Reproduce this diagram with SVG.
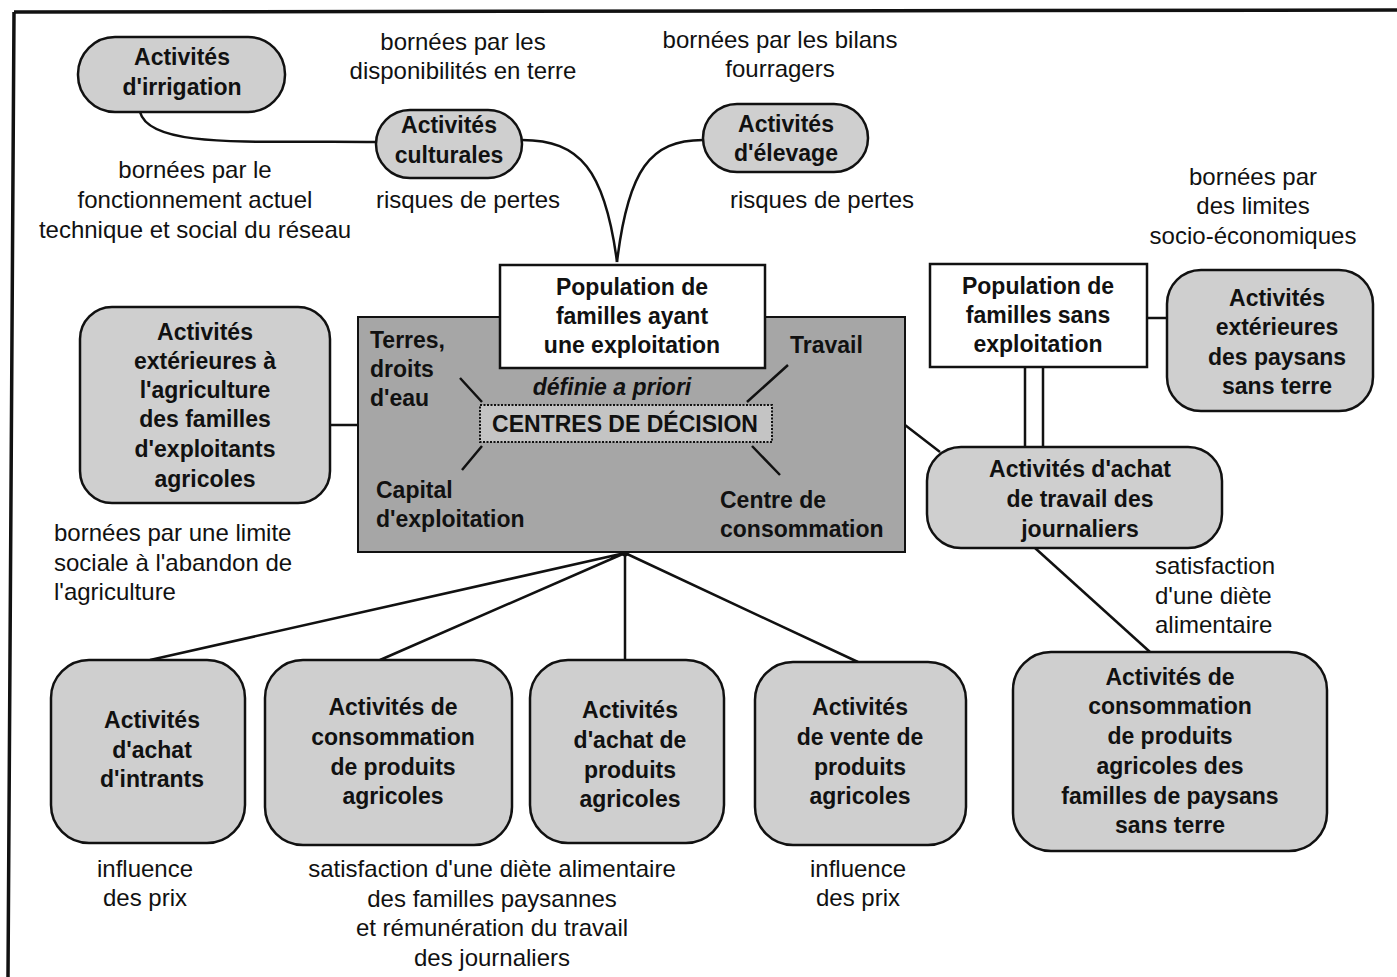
<svg xmlns="http://www.w3.org/2000/svg" width="1397" height="977" viewBox="0 0 1397 977">
<style>
text{font-family:"Liberation Sans",Arial,sans-serif;fill:#111;text-anchor:middle}
.r{font-size:24px}
.b{font-size:23px;font-weight:bold}
.l{text-anchor:start}
.node{fill:#cfcfcf;stroke:#111;stroke-width:2.5}
.box{fill:#fff;stroke:#111;stroke-width:2.5}
.ln{fill:none;stroke:#111;stroke-width:2.5}
</style>
<rect width="1397" height="977" fill="#fff"/>
<g id="frame"><path d="M14 12 L1397 10 M14 12 L8 977" fill="none" stroke="#111" stroke-width="3.5"/></g>

<g id="connectors">
<path class="ln" d="M140 112 C150 150 260 140 376 142"/>
<path class="ln" d="M522 140 C580 140 605 170 617 262"/>
<path class="ln" d="M703 140 C650 140 628 170 617 262"/>
<path class="ln" d="M330 425 L480 425"/>
<path class="ln" d="M772 425 L905 425 L940 452"/>
<path class="ln" d="M625 442 L625 553"/>
<path class="ln" d="M625 553 L150 660 M625 553 L380 660 M625 553 L625 660 M625 553 L858 662"/>
<path class="ln" d="M1147 318 L1167 318"/>
<path class="ln" d="M1025 367 L1025 447 M1043 367 L1043 447"/>
<path class="ln" d="M1035 548 L1150 652"/>
<circle cx="625" cy="553" r="3.5" fill="#111"/>
</g>

<g id="irrigation"><rect class="node" x="78" y="37" width="207" height="75" rx="37"/><text class="b" x="182" y="65">Activités</text><text class="b" x="182" y="95">d'irrigation</text></g>
<g id="culturales"><rect class="node" x="376" y="110" width="146" height="68" rx="34"/><text class="b" x="449" y="133">Activités</text><text class="b" x="449" y="163">culturales</text></g>
<g id="elevage"><rect class="node" x="703" y="104" width="165" height="68" rx="34"/><text class="b" x="786" y="132">Activités</text><text class="b" x="786" y="161">d'élevage</text></g>

<g id="notes">
<text class="r" x="463" y="50">bornées par les</text><text class="r" x="463" y="79">disponibilités en terre</text>
<text class="r" x="780" y="48">bornées par les bilans</text><text class="r" x="780" y="77">fourragers</text>
<text class="r" x="195" y="178">bornées par le</text><text class="r" x="195" y="208">fonctionnement actuel</text><text class="r" x="195" y="238">technique et social du réseau</text>
<text class="r" x="468" y="208">risques de pertes</text>
<text class="r" x="822" y="208">risques de pertes</text>
<text class="r" x="1253" y="185">bornées par</text><text class="r" x="1253" y="214">des limites</text><text class="r" x="1253" y="244">socio-économiques</text>
<text class="r l" x="54" y="541">bornées par une limite</text><text class="r l" x="54" y="571">sociale à l'abandon de</text><text class="r l" x="54" y="600">l'agriculture</text>
<text class="r l" x="1155" y="574">satisfaction</text><text class="r l" x="1155" y="604">d'une diète</text><text class="r l" x="1155" y="633">alimentaire</text>
<text class="r" x="145" y="877">influence</text><text class="r" x="145" y="906">des prix</text>
<text class="r" x="858" y="877">influence</text><text class="r" x="858" y="906">des prix</text>
<text class="r" x="492" y="877">satisfaction d'une diète alimentaire</text><text class="r" x="492" y="907">des familles paysannes</text><text class="r" x="492" y="936">et rémunération du travail</text><text class="r" x="492" y="966">des journaliers</text>
</g>

<g id="decision">
<rect x="358" y="317" width="547" height="235" fill="#a6a6a6" stroke="#111" stroke-width="2"/>
<path class="ln" d="M460 378 L482 402 M482 446 L462 470 M747 402 L788 365 M752 446 L780 475"/>
<text class="b l" x="370" y="348">Terres,</text><text class="b l" x="370" y="377">droits</text><text class="b l" x="370" y="406">d'eau</text>
<text class="b l" x="790" y="353">Travail</text>
<text class="b" x="612" y="395" font-style="italic">définie a priori</text>
<text class="b l" x="376" y="498">Capital</text><text class="b l" x="376" y="527">d'exploitation</text>
<text class="b l" x="720" y="508">Centre de</text><text class="b l" x="720" y="537">consommation</text>
</g>
<g id="centres"><rect x="480" y="405" width="292" height="37" fill="#c4c4c4" stroke="#111" stroke-width="2" stroke-dasharray="2 1.5"/><text x="625" y="432" style="font-size:23px;font-weight:bold">CENTRES DE DÉCISION</text></g>

<g id="pop-avec"><rect class="box" x="500" y="265" width="265" height="103"/><text class="b" x="632" y="295">Population de</text><text class="b" x="632" y="324">familles ayant</text><text class="b" x="632" y="353">une exploitation</text></g>

<g id="ext-agri"><rect class="node" x="80" y="307" width="250" height="196" rx="32"/><text class="b" x="205" y="340">Activités</text><text class="b" x="205" y="369">extérieures à</text><text class="b" x="205" y="398">l'agriculture</text><text class="b" x="205" y="427">des familles</text><text class="b" x="205" y="457">d'exploitants</text><text class="b" x="205" y="487">agricoles</text></g>

<g id="pop-sans"><rect class="box" x="930" y="264" width="217" height="103"/><text class="b" x="1038" y="294">Population de</text><text class="b" x="1038" y="323">familles sans</text><text class="b" x="1038" y="352">exploitation</text></g>
<g id="ext-paysans"><rect class="node" x="1167" y="270" width="206" height="141" rx="34"/><text class="b" x="1277" y="306">Activités</text><text class="b" x="1277" y="335">extérieures</text><text class="b" x="1277" y="365">des paysans</text><text class="b" x="1277" y="394">sans terre</text></g>
<g id="achat-travail"><rect class="node" x="927" y="447" width="295" height="101" rx="34"/><text class="b" x="1080" y="477">Activités d'achat</text><text class="b" x="1080" y="507">de travail des</text><text class="b" x="1080" y="537">journaliers</text></g>
<g id="conso-sans-terre"><rect class="node" x="1013" y="652" width="314" height="199" rx="38"/><text class="b" x="1170" y="685">Activités de</text><text class="b" x="1170" y="714">consommation</text><text class="b" x="1170" y="744">de produits</text><text class="b" x="1170" y="774">agricoles des</text><text class="b" x="1170" y="804">familles de paysans</text><text class="b" x="1170" y="833">sans terre</text></g>

<g id="intrants"><rect class="node" x="51" y="660" width="194" height="183" rx="38"/><text class="b" x="152" y="728">Activités</text><text class="b" x="152" y="758">d'achat</text><text class="b" x="152" y="787">d'intrants</text></g>
<g id="conso"><rect class="node" x="265" y="660" width="247" height="185" rx="38"/><text class="b" x="393" y="715">Activités de</text><text class="b" x="393" y="745">consommation</text><text class="b" x="393" y="775">de produits</text><text class="b" x="393" y="804">agricoles</text></g>
<g id="achat-produits"><rect class="node" x="530" y="660" width="194" height="183" rx="38"/><text class="b" x="630" y="718">Activités</text><text class="b" x="630" y="748">d'achat de</text><text class="b" x="630" y="778">produits</text><text class="b" x="630" y="807">agricoles</text></g>
<g id="vente"><rect class="node" x="755" y="662" width="211" height="183" rx="38"/><text class="b" x="860" y="715">Activités</text><text class="b" x="860" y="745">de vente de</text><text class="b" x="860" y="775">produits</text><text class="b" x="860" y="804">agricoles</text></g>
</svg>
